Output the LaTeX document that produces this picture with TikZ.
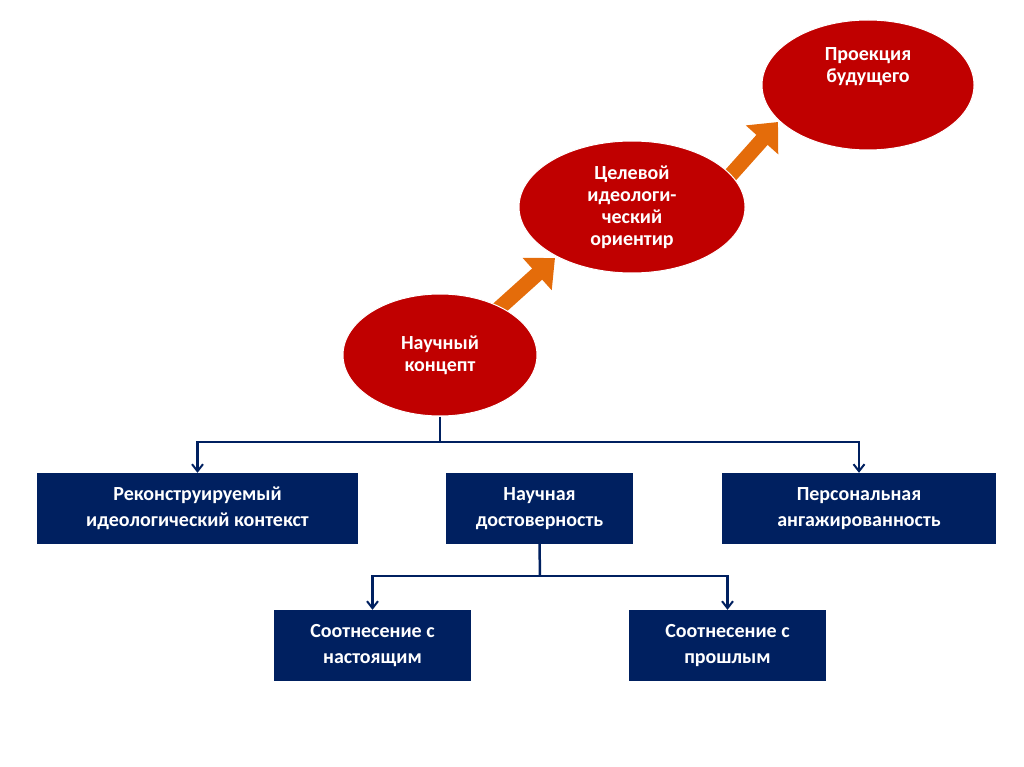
\documentclass[tikz,border=0pt]{standalone}
\usepackage{fontspec}
\setmainfont{Carlito}
\usetikzlibrary{arrows.meta,shapes.geometric}
\definecolor{ered}{RGB}{192,0,0}
\definecolor{bnavy}{RGB}{0,32,96}
\definecolor{orng}{RGB}{228,108,10}
\begin{document}
\begin{tikzpicture}[x=1pt,y=-1pt,
  ell/.style={ellipse,fill=ered,draw=white,line width=1pt,text=white,font=\bfseries\fontsize{20}{22}\selectfont,align=center,inner sep=0pt},
  box/.style={fill=bnavy,text=white,font=\bfseries\fontsize{20}{26}\selectfont,align=center,inner sep=0pt},
  con/.style={draw=bnavy,line width=2.5pt},
  ar/.style={con,-{Straight Barb[length=7pt,width=11pt,line width=2pt]}},
  big/.style={draw=orng,line width=15pt,-{Triangle[length=24pt,width=42pt]}}]
\useasboundingbox (0,0) rectangle (1024,767);
\draw[big] (495,312) -- (555,258);
\draw[big] (728,178) -- (778,122);
\node[ell,minimum width=194pt,minimum height=122pt] (a) at (440,355) {Научный\\концепт};
\node[ell,minimum width=226pt,minimum height=132pt] (b) at (632,207) {Целевой\\идеологи-\\ческий\\ориентир};
\node[ell,minimum width=212pt,minimum height=130pt] (c) at (868,85) {Проекция\\будущего\\[18pt]};
\node[box,minimum width=321pt,minimum height=71pt] (d) at (197.5,508.5) {Реконструируемый\\идеологический контекст};
\node[box,minimum width=187pt,minimum height=71pt] (e) at (539.5,508.5) {Научная\\достоверность};
\node[box,minimum width=274pt,minimum height=71pt] (f) at (859,508.5) {Персональная\\ангажированность};
\node[box,minimum width=197pt,minimum height=71pt] (g) at (372.5,645.5) {Соотнесение с\\настоящим};
\node[box,minimum width=197pt,minimum height=71pt] (h) at (727.5,645.5) {Соотнесение с\\прошлым};
\coordinate (j1) at (440,442);
\coordinate (j2) at (540,576);
\draw[con] (a.south) -- (j1);
\draw[ar] (j1) -| (d.north);
\draw[ar] (j1) -| (f.north);
\draw[con] (e.south) -- (j2);
\draw[ar] (j2) -| (g.north);
\draw[ar] (j2) -| (h.north);
\end{tikzpicture}
\end{document}
